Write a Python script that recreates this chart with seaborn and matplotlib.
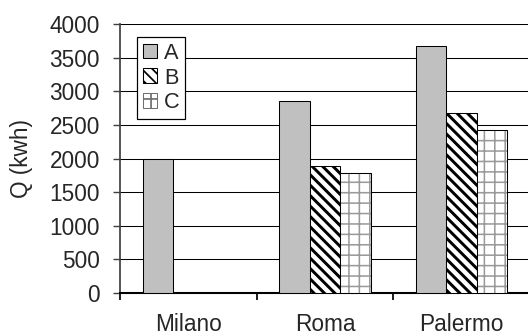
import matplotlib
matplotlib.use("Agg")
import matplotlib.pyplot as plt
import pandas as pd
import seaborn as sns
from matplotlib.patches import Rectangle, Patch
from matplotlib.ticker import MultipleLocator, FixedLocator

# Energy demand per city and configuration
cities = ["Milano", "Roma", "Palermo"]
series = ["A", "B", "C"]
values_a = [2000, 2850, 3670]
values_b = [None, 1890, 2670]
values_c = [None, 1790, 2420]

rows = []
for s, vals in zip(series, [values_a, values_b, values_c]):
    for c, v in zip(cities, vals):
        if v is not None:
            rows.append({"city": c, "series": s, "Q": v})
df = pd.DataFrame(rows)

sns.set_style("white")
plt.rcParams["font.family"] = ["Liberation Sans", "DejaVu Sans"]

DPI = 125
FS = 13
fig = plt.figure(figsize=(528 / DPI, 335 / DPI), dpi=DPI)
ax = fig.add_axes([120 / 528, (335 - 293) / 335, 410 / 528, 269 / 335])

sns.barplot(data=df, x="city", y="Q", hue="series", order=cities,
            hue_order=series, palette=["#c0c0c0", "white", "white"],
            width=2 / 3, gap=0, saturation=1, edgecolor="black",
            linewidth=0.6, legend=False, ax=ax, zorder=3)

hatches = {"A": "", "B": "\\\\\\\\", "C": "++"}
hatch_lw = {"A": 1.0, "B": 1.7, "C": 0.9}
hatch_edge = {"A": "black", "B": "black", "C": "#9a9a9a"}
for cont, s in zip(ax.containers, series):
    for p in cont.patches:
        p.set_hatch(hatches[s])
        p.set_edgecolor(hatch_edge[s])
        if hasattr(p, "set_hatch_linewidth"):
            p.set_hatch_linewidth(hatch_lw[s])
        if s == "C":
            # crisp black outline over the grey grid hatch
            ax.add_patch(Rectangle(p.get_xy(), p.get_width(), p.get_height(),
                                   fill=False, edgecolor="black",
                                   linewidth=0.6, zorder=4))

ax.set_ylim(0, 4000)
ax.set_xlim(-0.5, 2.5)
ax.yaxis.set_major_locator(MultipleLocator(500))
ax.xaxis.set_minor_locator(FixedLocator([-0.5, 0.5, 1.5, 2.5]))
ax.set_axisbelow(True)
ax.grid(axis="y", color="black", linewidth=0.6)
ax.grid(axis="x", visible=False)

ax.tick_params(axis="x", which="major", length=0, pad=11.5, labelsize=FS)
ax.tick_params(axis="x", which="minor", length=3.8, width=1.0,
               color="black", direction="out", bottom=True)
ax.tick_params(axis="y", length=3.8, width=0.8, color="#404040",
               direction="out", pad=7.7, labelsize=FS, left=True)

for side in ("top", "right"):
    ax.spines[side].set_visible(False)
ax.spines["left"].set_color("#404040")
ax.spines["left"].set_linewidth(1.0)
ax.spines["bottom"].set_color("black")
ax.spines["bottom"].set_linewidth(1.2)

ax.set_xlabel("")
ax.set_ylabel("Q (kwh)", fontsize=FS)
ax.yaxis.set_label_coords(-0.212, 0.5)

handles = []
for s, col in zip(series, ["#c0c0c0", "white", "white"]):
    h = Patch(facecolor=col, edgecolor=hatch_edge[s] if s != "C" else "#707070",
              hatch=hatches[s], linewidth=0.6, label=s)
    if hasattr(h, "set_hatch_linewidth"):
        h.set_hatch_linewidth(hatch_lw[s])
    handles.append(h)

leg = ax.legend(handles=handles, loc="upper left",
                bbox_to_anchor=(0.042, 0.951), borderaxespad=0,
                fontsize=12.5, handlelength=0.68, handleheight=0.68,
                handletextpad=0.3, labelspacing=0.18, borderpad=0.25,
                fancybox=False, framealpha=1, edgecolor="black")
leg.get_frame().set_linewidth(0.7)
leg.set_zorder(5)

fig.savefig("out.png", dpi=DPI)
